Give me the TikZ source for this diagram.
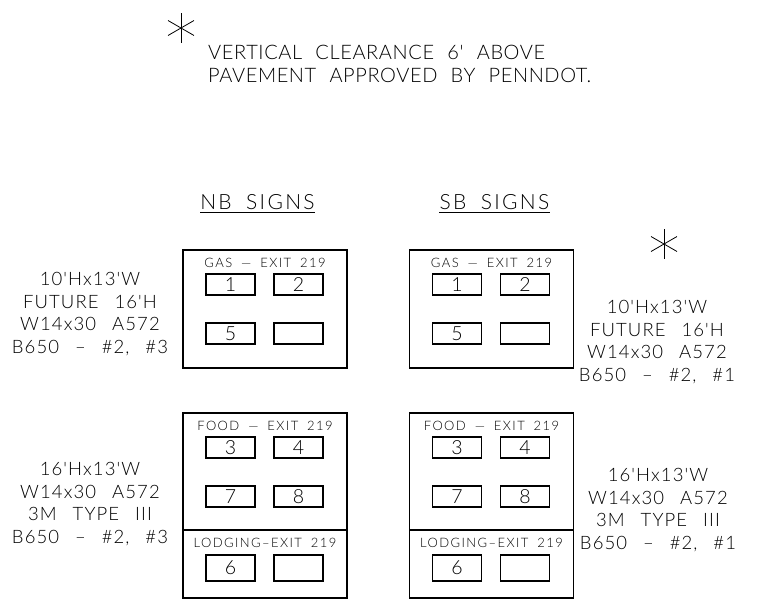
\documentclass[tikz,border=0pt]{standalone}
\usepackage{fontspec}
\IfFontExistsTF{Lato Light}{%
  \newfontfamily\cad{Lato Light}[WordSpace=2.2,LetterSpace=3]
  \newfontfamily\cadwide{Lato Light}[WordSpace=1.8,LetterSpace=11]
  \newfontfamily\cadspec{Lato Light}[WordSpace=2.6,LetterSpace=6]
}{%
  \newfontfamily\cad{Liberation Sans}[WordSpace=2.2]
  \newfontfamily\cadwide{Liberation Sans}[WordSpace=1.8,LetterSpace=9]
  \newfontfamily\cadspec{Liberation Sans}[WordSpace=1.8,LetterSpace=8]
}
\usetikzlibrary{positioning}

\begin{document}
\begin{tikzpicture}[x=1pt,y=-1pt,
    signbox/.style={draw,line width=1.3pt,minimum width=164pt,inner sep=0pt,outer sep=0pt},
    panel/.style={draw,line width=1.2pt,minimum width=49pt,minimum height=21pt,inner sep=0pt,outer sep=0pt,font=\cad\fontsize{19.5}{19.5}\selectfont},
    title/.style={inner sep=0pt,font=\cadwide\fontsize{13}{14}\selectfont},
    spec/.style={align=center,inner sep=0pt,font=\cadspec\fontsize{18.5}{22.7}\selectfont},
    head/.style={inner sep=0pt,font=\cadwide\fontsize{21}{24}\selectfont},
    note/.style={align=left,inner sep=0pt,font=\cad\fontsize{20}{23}\selectfont},
    star/.style={line width=0.8pt}]

    \useasboundingbox (0,0) rectangle (768,603);

    % note at the top
    \coordinate (star_note) at (181,28);
    \foreach \a in {90,30,150}
        \draw[star] ([shift={(\a:15pt)}]star_note) -- ([shift={(\a+180:15pt)}]star_note);
    \node[note,anchor=north west] (note) at (208,45) {VERTICAL CLEARANCE 6' ABOVE\\PAVEMENT APPROVED BY PENNDOT.};

    % headings
    \node[head] (nb_head) at (257.5,202) {NB SIGNS};
    \draw[line width=1pt] ([yshift=-3pt]nb_head.south west) -- ([yshift=-3pt]nb_head.south east);
    \node[head] (sb_head) at (494.5,202) {SB SIGNS};
    \draw[line width=1pt] ([yshift=-3pt]sb_head.south west) -- ([yshift=-3pt]sb_head.south east);

    % NB gas sign
    \node[signbox,minimum height=118pt] (nb_top) at (265,309) {};
    \node[title] (nb_gas) at ([yshift=-13pt]nb_top.north) {GAS — EXIT 219};
    \node[panel,below right=24pt and 23pt of nb_top.north west] (nb_1) {1};
    \node[panel,right=19pt of nb_1] (nb_2) {2};
    \node[panel,below=28pt of nb_1] (nb_5) {5};
    \node[panel,right=19pt of nb_5] (nb_x1) {};

    % NB food and lodging sign
    \node[signbox,minimum height=185pt] (nb_bot) at (265,505.5) {};
    \draw[line width=1.3pt] ([yshift=-117pt]nb_bot.north west) -- ([yshift=-117pt]nb_bot.north east);
    \node[title] (nb_food) at ([yshift=-12.5pt]nb_bot.north) {FOOD — EXIT 219};
    \node[panel,below right=24pt and 23pt of nb_bot.north west] (nb_3) {3};
    \node[panel,right=19pt of nb_3] (nb_4) {4};
    \node[panel,below=28pt of nb_3] (nb_7) {7};
    \node[panel,right=19pt of nb_7] (nb_8) {8};
    \node[title] (nb_lodging) at ([yshift=-130pt]nb_bot.north) {LODGING–EXIT 219};
    \node[panel,minimum height=26pt,below=48pt of nb_7] (nb_6) {6};
    \node[panel,minimum height=26pt,right=19pt of nb_6] (nb_x2) {};

    % SB gas sign
    \node[signbox,minimum height=118pt] (sb_top) at (491.5,309) {};
    \node[title] (sb_gas) at ([yshift=-13pt]sb_top.north) {GAS — EXIT 219};
    \node[panel,below right=24pt and 23pt of sb_top.north west] (sb_1) {1};
    \node[panel,right=19pt of sb_1] (sb_2) {2};
    \node[panel,below=28pt of sb_1] (sb_5) {5};
    \node[panel,right=19pt of sb_5] (sb_x1) {};

    % SB food and lodging sign
    \node[signbox,minimum height=185pt] (sb_bot) at (491.5,505.5) {};
    \draw[line width=1.3pt] ([yshift=-117pt]sb_bot.north west) -- ([yshift=-117pt]sb_bot.north east);
    \node[title] (sb_food) at ([yshift=-12.5pt]sb_bot.north) {FOOD — EXIT 219};
    \node[panel,below right=24pt and 23pt of sb_bot.north west] (sb_3) {3};
    \node[panel,right=19pt of sb_3] (sb_4) {4};
    \node[panel,below=28pt of sb_3] (sb_7) {7};
    \node[panel,right=19pt of sb_7] (sb_8) {8};
    \node[title] (sb_lodging) at ([yshift=-130pt]sb_bot.north) {LODGING–EXIT 219};
    \node[panel,minimum height=26pt,below=48pt of sb_7] (sb_6) {6};
    \node[panel,minimum height=26pt,right=19pt of sb_6] (sb_x2) {};

    % sign data
    \node[spec] (nb_top_spec) at (90,314) {10'Hx13'W\\FUTURE 16'H\\W14x30 A572\\B650 – \#2, \#3};
    \node[spec] (nb_bot_spec) at (90,504) {16'Hx13'W\\W14x30 A572\\3M TYPE III\\B650 – \#2, \#3};
    \coordinate (star_sb) at (664,244);
    \foreach \a in {90,30,150}
        \draw[star] ([shift={(\a:15pt)}]star_sb) -- ([shift={(\a+180:15pt)}]star_sb);
    \node[spec] (sb_top_spec) at (657,342) {10'Hx13'W\\FUTURE 16'H\\W14x30 A572\\B650 – \#2, \#1};
    \node[spec] (sb_bot_spec) at (658,510) {16'Hx13'W\\W14x30 A572\\3M TYPE III\\B650 – \#2, \#1};

\end{tikzpicture}
\end{document}
